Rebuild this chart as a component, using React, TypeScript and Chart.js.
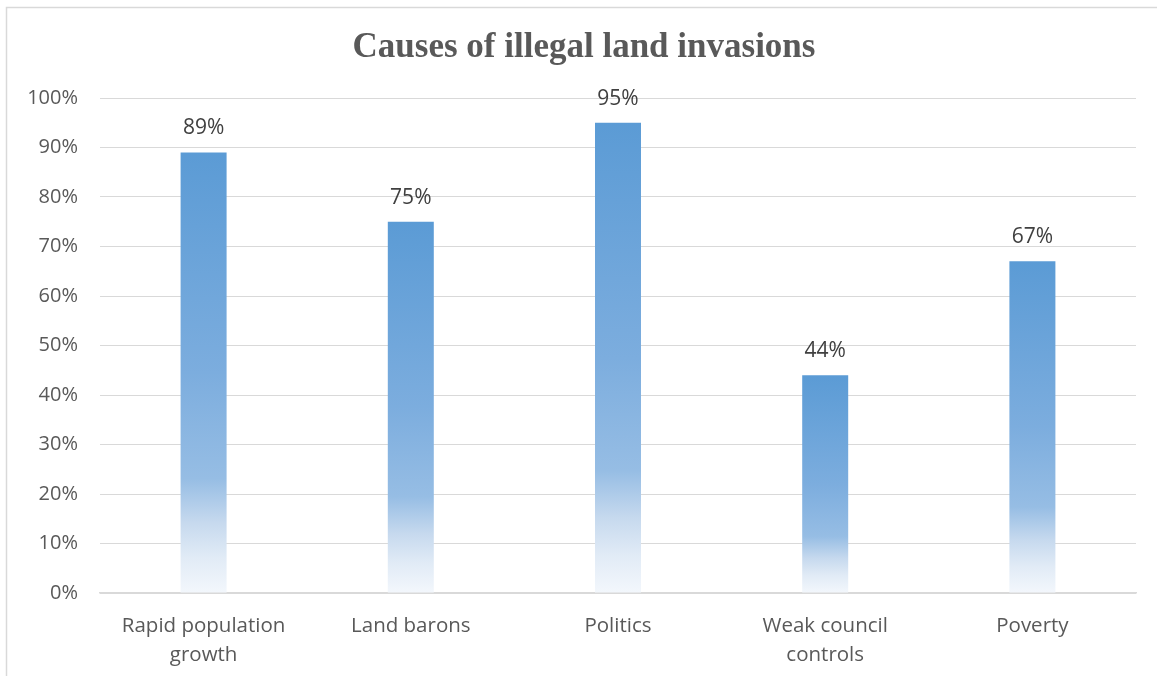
import React, { useEffect, useRef } from "react";
import { Chart, registerables } from "chart.js";

Chart.register(...registerables);

const categories: (string | string[])[] = [
  ["Rapid population", "growth"],
  "Land barons",
  "Politics",
  ["Weak council", "controls"],
  "Poverty",
];
const values: number[] = [89, 75, 95, 44, 67];
const yTicks: number[] = [0, 10, 20, 30, 40, 50, 60, 70, 80, 90, 100];
const titleText = "Causes of illegal land invasions";

const W = 1157;
const H = 676;

const borderPlugin = {
  id: "pageBorder",
  beforeDraw(chart: any) {
    const ctx = chart.ctx;
    ctx.save();
    ctx.fillStyle = "#ffffff";
    ctx.fillRect(0, 0, chart.width, chart.height);
    ctx.strokeStyle = "#d9d9d9";
    ctx.lineWidth = 1.5;
    ctx.beginPath();
    ctx.moveTo(6.5, chart.height + 5);
    ctx.lineTo(6.5, 7.5);
    ctx.lineTo(chart.width + 5, 7.5);
    ctx.stroke();
    // title
    ctx.fillStyle = "#595959";
    ctx.font = "bold 35px 'Liberation Serif', 'Times New Roman', serif";
    ctx.textAlign = "center";
    ctx.textBaseline = "middle";
    ctx.fillText(titleText, 584, 48);
    ctx.restore();
  },
};

const labelPlugin = {
  id: "barValueLabels",
  afterDatasetsDraw(chart: any) {
    const ctx = chart.ctx;
    const meta = chart.getDatasetMeta(0);
    ctx.save();
    ctx.fillStyle = "#404040";
    ctx.font = "21px 'Open Sans', 'Noto Sans', sans-serif";
    ctx.textAlign = "center";
    ctx.textBaseline = "middle";
    meta.data.forEach((bar: any, i: number) => {
      ctx.fillText(values[i] + "%", bar.x, bar.y - 24);
    });
    ctx.restore();
  },
};

function makeGradient(context: any) {
  const chart = context.chart;
  const yScale = chart.scales?.y;
  if (!yScale || context.dataIndex === undefined) return "rgb(91,155,213)";
  const v = values[context.dataIndex];
  const top = yScale.getPixelForValue(v);
  const bottom = yScale.getPixelForValue(0);
  if (!isFinite(top) || !isFinite(bottom) || bottom <= top) return "rgb(91,155,213)";
  const g = chart.ctx.createLinearGradient(0, top, 0, bottom);
  g.addColorStop(0, "rgb(91,155,213)");
  g.addColorStop(0.5, "rgb(124,173,222)");
  g.addColorStop(0.74, "rgb(150,189,228)");
  g.addColorStop(0.84, "rgb(198,217,238)");
  g.addColorStop(0.92, "rgb(225,235,246)");
  g.addColorStop(1, "rgb(243,247,252)");
  return g;
}

export default function App() {
  const ref = useRef<HTMLCanvasElement | null>(null);

  useEffect(() => {
    document.body.style.margin = "0";
    if (!ref.current) return;
    const chart = new Chart(ref.current, {
      type: "bar",
      data: {
        labels: categories,
        datasets: [
          {
            data: values,
            backgroundColor: makeGradient as any,
            borderWidth: 0,
            categoryPercentage: 1,
            barPercentage: 0.222,
          },
        ],
      },
      options: {
        responsive: false,
        animation: false,
        devicePixelRatio: 1,
        layout: { padding: { left: 0, right: 21, top: 98, bottom: 0 } },
        plugins: {
          legend: { display: false },
          title: { display: false },
          tooltip: { enabled: false },
        },
        scales: {
          x: {
            grid: { display: false, drawTicks: false },
            border: { display: true, color: "#d9d9d9", width: 1.5 },
            ticks: {
              color: "#595959",
              font: { family: "'Open Sans', 'Noto Sans', sans-serif", size: 20.5, lineHeight: 1.45 },
              padding: 18,
              maxRotation: 0,
              autoSkip: false,
            },
            afterFit(scale: any) {
              scale.height = H - 593;
            },
          },
          y: {
            min: 0,
            max: 100,
            afterBuildTicks(scale: any) {
              scale.ticks = yTicks.map((v) => ({ value: v }));
            },
            grid: { color: "#d9d9d9", lineWidth: 1, drawTicks: false },
            border: { display: false },
            ticks: {
              color: "#595959",
              font: { family: "'Open Sans', 'Noto Sans', sans-serif", size: 20 },
              padding: 22,
              callback: (v: any) => v + "%",
            },
            afterFit(scale: any) {
              scale.width = 100;
            },
          },
        },
      },
      plugins: [borderPlugin, labelPlugin],
    });
    return () => chart.destroy();
  }, []);

  return (
    <div style={{ position: "absolute", left: 0, top: 0, width: W, height: H }}>
      <canvas ref={ref} width={W} height={H} style={{ width: W, height: H, display: "block" }} />
    </div>
  );
}
